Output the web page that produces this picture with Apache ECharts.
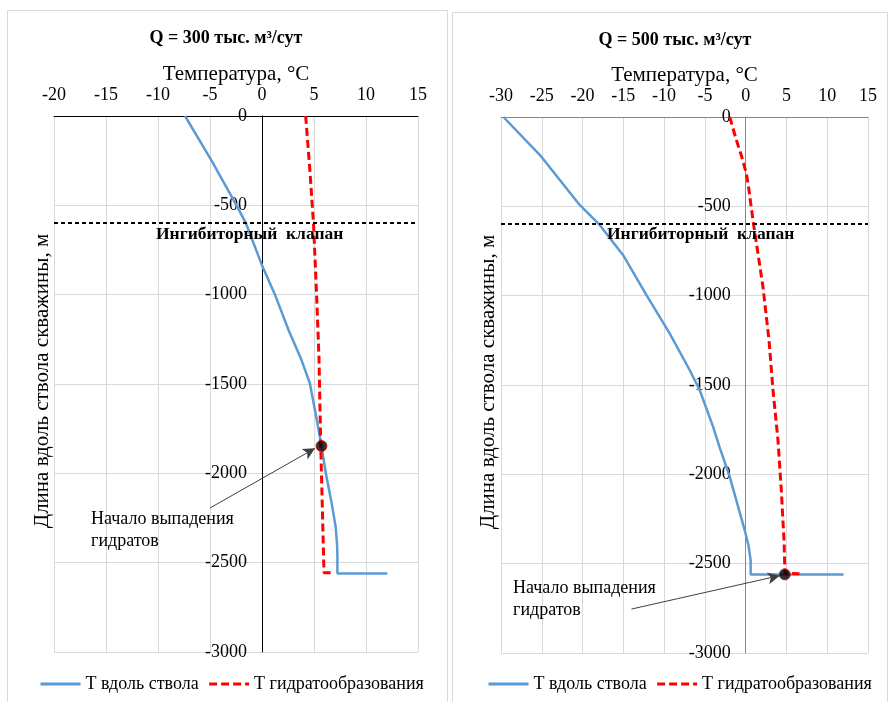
<!DOCTYPE html>
<html>
<head>
<meta charset="utf-8">
<script src="https://cdn.jsdelivr.net/npm/echarts@6/dist/echarts.min.js"></script>
<style>
  html, body { margin: 0; padding: 0; background: #fff; }
  #chart { width: 891px; height: 702px; }
</style>
</head>
<body>
<div id="chart"></div>
<script>
// ---- data ----
var titles = ['Q = 300 тыс. м³/сут', 'Q = 500 тыс. м³/сут'];
var seriesNames = ['Т вдоль ствола', 'Т гидратообразования'];
var valveDepth = -600;
var valveText = 'Ингибиторный  клапан';
var noteText = 'Начало выпадения\nгидратов';

// Q = 300: temperature along the well
var wellDepth300 = [0, -250, -500, -600, -843, -1000, -1198, -1366, -1496, -1664, -1847, -2004, -2168, -2299, -2400, -2467, -2560, -2560];
var wellTemp300  = [-7.4, -4.85, -2.45, -1.55, 0.05, 1.25, 2.55, 3.8, 4.6, 5.15, 5.72, 6.15, 6.7, 7.08, 7.22, 7.25, 7.25, 12.05];
// Q = 300: hydrate formation temperature
var hydDepth300 = [0, -300, -600, -1000, -1355, -1850, -2300, -2556, -2556];
var hydTemp300  = [4.2, 4.6, 4.95, 5.25, 5.48, 5.65, 5.85, 5.96, 6.6];

// Q = 500: temperature along the well
var wellDepth500 = [0, -222, -492, -604, -772, -996, -1211, -1416, -1528, -1733, -1855, -2013, -2312, -2400, -2480, -2560, -2560];
var wellTemp500  = [-29.7, -25.05, -20.35, -17.9, -15.04, -12.18, -9.32, -6.87, -5.64, -4.0, -3.15, -1.96, -0.12, 0.35, 0.61, 0.61, 12.0];
// Q = 500: hydrate formation temperature
var hydDepth500 = [0, -129, -220, -315, -400, -460, -604, -950, -1248, -1528, -1808, -2088, -2368, -2554, -2556];
var hydTemp500  = [-1.96, -1.14, -0.5, 0.08, 0.38, 0.55, 0.98, 2.12, 2.86, 3.35, 3.96, 4.37, 4.7, 4.82, 6.6];

// start of hydrate deposition [T, depth]
var hydrateStart = [[5.72, -1847], [4.8, -2560]];
// annotation arrows: from text to point
var arrow300 = [[-5, -2194], [5.1, -1860]];
var arrow500 = [[-14, -2754], [4.17, -2567]];

var xMin = [-20, -30];
var xMax = 15;

function pairs(t, d) {
  var out = [];
  for (var i = 0; i < t.length; i++) out.push([t[i], d[i]]);
  return out;
}

var font = 'Liberation Serif';
var grids = [
  { left: 54, top: 116, width: 364, height: 536 },
  { left: 501, top: 117, width: 367, height: 536 }
];
var myChart = echarts.init(document.getElementById('chart'));

function xAxisOf(i, lineColor) {
  return {
    type: 'value', gridIndex: i, position: 'top',
    min: xMin[i], max: xMax, interval: 5,
    name: 'Температура, °C', nameLocation: 'middle', nameGap: 31, nameMoveOverlap: false,
    nameTextStyle: { fontFamily: font, fontSize: 21, color: '#000' },
    axisLine: { onZero: false, lineStyle: { color: lineColor, width: 1 } },
    axisTick: { show: false },
    axisLabel: { fontFamily: font, fontSize: 18, color: '#000', margin: 12 },
    splitLine: { lineStyle: { color: '#d9d9d9', width: 1 } }
  };
}
function yAxisOf(i, lineColor) {
  // put the vertical axis where temperature is zero
  var shift = (0 - xMin[i]) / (xMax - xMin[i]) * grids[i].width;
  return {
    type: 'value', gridIndex: i, position: 'left', offset: -shift,
    min: -3000, max: 0, interval: 500,
    axisLine: { show: true, onZero: false, lineStyle: { color: lineColor, width: 1 } },
    axisTick: { show: false },
    axisLabel: { fontFamily: font, fontSize: 18, color: '#000', margin: 15,
                 formatter: function (v) { return String(v); } },
    splitLine: { lineStyle: { color: '#d9d9d9', width: 1 } }
  };
}
function wellSeries(i, data) {
  return {
    name: seriesNames[0], type: 'line', xAxisIndex: i, yAxisIndex: i,
    data: data, symbol: 'none', smooth: false, z: 3,
    lineStyle: { color: '#5b9bd5', width: 2.5 },
    itemStyle: { color: '#5b9bd5' },
    markLine: {
      silent: true, symbol: ['none', 'none'], label: { show: false },
      lineStyle: { color: '#000', type: [4, 3], width: 2 },
      data: [{ yAxis: valveDepth }]
    }
  };
}
function hydSeries(i, data) {
  return {
    name: seriesNames[1], type: 'line', xAxisIndex: i, yAxisIndex: i,
    data: data, symbol: 'none', smooth: false, z: 4,
    lineStyle: { color: '#ff0000', width: 3, type: [8, 4] },
    itemStyle: { color: '#ff0000' }
  };
}
function startSeries(i, arrow) {
  return {
    name: 'start', type: 'scatter', xAxisIndex: i, yAxisIndex: i,
    data: [hydrateStart[i]], symbolSize: 11, z: 6,
    itemStyle: { color: '#000', borderColor: '#ff0000', borderWidth: 1 },
    markLine: {
      silent: true, symbol: ['none', 'arrow'], symbolSize: [9, 12],
      label: { show: false },
      lineStyle: { color: '#404040', type: 'solid', width: 1 },
      data: [[{ coord: arrow[0] }, { coord: arrow[1] }]]
    }
  };
}
function legendOf(left) {
  return {
    data: seriesNames, left: left, top: 670, itemWidth: 40, itemHeight: 16, itemGap: 9,
    itemStyle: { opacity: 0 },
    lineStyle: { width: 3 },
    textStyle: { fontFamily: font, fontSize: 18, color: '#000' }
  };
}

var option = {
  backgroundColor: '#fff',
  animation: false,
  title: [
    { text: titles[0], left: 221, top: 24, textAlign: 'center',
      textStyle: { fontFamily: font, fontSize: 18, fontWeight: 'bold', color: '#000' } },
    { text: titles[1], left: 670, top: 26, textAlign: 'center',
      textStyle: { fontFamily: font, fontSize: 18, fontWeight: 'bold', color: '#000' } }
  ],
  legend: [legendOf(34), legendOf(482)],
  grid: grids,
  xAxis: [xAxisOf(0, '#000'), xAxisOf(1, '#868686')],
  yAxis: [yAxisOf(0, '#000'), yAxisOf(1, '#868686')],
  series: [
    wellSeries(0, pairs(wellTemp300, wellDepth300)),
    hydSeries(0, pairs(hydTemp300, hydDepth300)),
    startSeries(0, arrow300),
    wellSeries(1, pairs(wellTemp500, wellDepth500)),
    hydSeries(1, pairs(hydTemp500, hydDepth500)),
    startSeries(1, arrow500)
  ],
  graphic: [
    { type: 'rect', z: -10, shape: { x: 7.5, y: 10.5, width: 440, height: 700 },
      style: { fill: 'none', stroke: '#d9d9d9', lineWidth: 1 } },
    { type: 'rect', z: -10, shape: { x: 452.5, y: 12.5, width: 435, height: 700 },
      style: { fill: 'none', stroke: '#d9d9d9', lineWidth: 1 } },
    { type: 'text', x: 42, y: 381, rotation: Math.PI / 2,
      style: { text: 'Длина вдоль ствола скважины, м', font: '21px "Liberation Serif"', fill: '#000',
               textAlign: 'center', textVerticalAlign: 'middle' } },
    { type: 'text', x: 488, y: 382, rotation: Math.PI / 2,
      style: { text: 'Длина вдоль ствола скважины, м', font: '21px "Liberation Serif"', fill: '#000',
               textAlign: 'center', textVerticalAlign: 'middle' } },
    { type: 'text', x: 156, y: 234, z: 10,
      style: { text: valveText, font: 'bold 17.5px "Liberation Serif"', fill: '#000',
               textAlign: 'left', textVerticalAlign: 'middle' } },
    { type: 'text', x: 607, y: 234, z: 10,
      style: { text: valveText, font: 'bold 17.5px "Liberation Serif"', fill: '#000',
               textAlign: 'left', textVerticalAlign: 'middle' } },
    { type: 'text', x: 91, y: 508, z: 10,
      style: { text: noteText, font: '18px "Liberation Serif"', fill: '#000', lineHeight: 22,
               textAlign: 'left', textVerticalAlign: 'top' } },
    { type: 'text', x: 513, y: 577, z: 10,
      style: { text: noteText, font: '18px "Liberation Serif"', fill: '#000', lineHeight: 22,
               textAlign: 'left', textVerticalAlign: 'top' } }
  ]
};

myChart.setOption(option);
window.onresize = myChart.resize;
</script>
</body>
</html>
